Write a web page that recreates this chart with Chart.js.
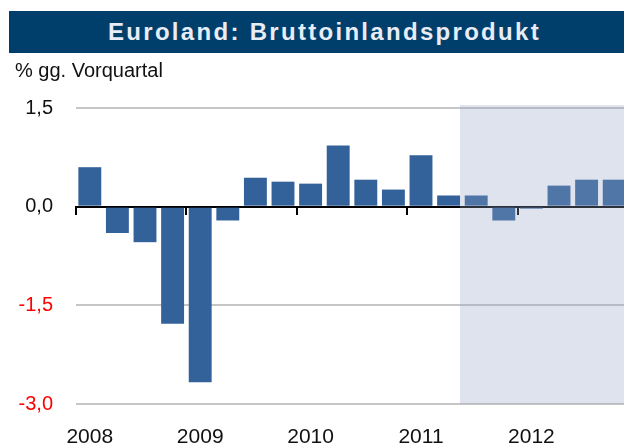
<!DOCTYPE html>
<html>
<head>
<meta charset="utf-8">
<script src="https://cdn.jsdelivr.net/npm/chart.js@4"></script>
<style>
  body { margin: 0; background: #fff; overflow: hidden; font-family: "Liberation Sans", Arial, sans-serif; }
  #wrap { position: relative; width: 624px; height: 445px; overflow: hidden; }
  #titel {
    position: absolute; left: 9px; top: 11px; width: 631px; height: 42px;
    background: #003e6b; color: #e8ecf5; font-weight: bold; font-size: 24px;
    letter-spacing: 2.3px; line-height: 42px; text-align: center; z-index: 2;
  }
  #einheit { position: absolute; left: 15px; top: 60px; font-size: 20px; line-height: 20px; color: #111; z-index: 2; }
  #box { position: absolute; left: 0; top: 0; width: 628px; height: 445px; }
</style>
</head>
<body>
<div id="wrap">
  <div id="titel">Euroland: Bruttoinlandsprodukt</div>
  <div id="einheit">% gg. Vorquartal</div>
  <div id="box"><canvas id="chart"></canvas></div>
</div>
<script>
const quartale = [
  "Q1 2008", "Q2 2008", "Q3 2008", "Q4 2008",
  "Q1 2009", "Q2 2009", "Q3 2009", "Q4 2009",
  "Q1 2010", "Q2 2010", "Q3 2010", "Q4 2010",
  "Q1 2011", "Q2 2011", "Q3 2011", "Q4 2011",
  "Q1 2012", "Q2 2012", "Q3 2012", "Q4 2012"
];
const bip = [
  0.6, -0.4, -0.54, -1.78,
  -2.67, -0.21, 0.44, 0.38,
  0.35, 0.93, 0.41, 0.26,
  0.78, 0.17, 0.17, -0.21,
  -0.03, 0.32, 0.41, 0.41
];
const yTicks = [1.5, 0, -1.5, -3.0];
const prognoseAb = "Q3 2011"; // ab hier Prognose (schattiert)

const prognoseFlaeche = {
  id: "prognoseFlaeche",
  afterDraw(chart) {
    const ctx = chart.ctx;
    const meta = chart.getDatasetMeta(0);
    const vorher = meta.data[quartale.indexOf(prognoseAb) - 1];
    const x0 = vorher.x + vorher.width / 2;
    const { top, bottom, right } = chart.chartArea;
    ctx.save();
    ctx.fillStyle = "rgba(148, 162, 198, 0.3)";
    ctx.fillRect(x0, top - 3, right - x0, bottom - top + 3);
    ctx.restore();
  },
};

new Chart(document.getElementById("chart"), {
  type: "bar",
  data: {
    labels: quartale,
    datasets: [
      {
        data: bip,
        backgroundColor: "#33629a",
        borderWidth: 0,
        barPercentage: 0.83,
        categoryPercentage: 1,
      },
    ],
  },
  options: {
    responsive: true,
    maintainAspectRatio: false,
    animation: false,
    layout: { padding: { top: 108, left: 0, right: 0, bottom: 0 } },
    plugins: { legend: { display: false }, tooltip: { enabled: false } },
    scales: {
      x: {
        offset: true,
        grid: { display: false },
        border: { display: false },
        ticks: {
          autoSkip: false,
          maxRotation: 0,
          padding: 13,
          color: "#111",
          font: { family: "Liberation Sans", size: 21 },
          callback: (v, i) => (quartale[i].startsWith("Q1") ? quartale[i].slice(3) : ""),
        },
        afterFit: (s) => { s.height = 41; },
      },
      x2: {
        type: "category",
        position: { y: 0 },
        offset: true,
        z: 1,
        grid: {
          offset: true,
          drawOnChartArea: false,
          drawTicks: true,
          tickLength: 7,
          lineWidth: 2,
          color: (c) => (c.index % 4 === 0 ? "#000" : "rgba(0,0,0,0)"),
        },
        border: { display: true, color: "#000", width: 2 },
        ticks: { display: false },
      },
      y: {
        min: yTicks[yTicks.length - 1],
        max: yTicks[0],
        afterBuildTicks: (s) => { s.ticks = yTicks.map((v) => ({ value: v })); },
        grid: {
          drawTicks: false,
          lineWidth: 2,
          color: (c) => (c.tick.value === 0 ? "rgba(0,0,0,0)" : "#c6c6c6"),
        },
        border: { display: false },
        ticks: {
          padding: 23,
          font: { family: "Liberation Sans", size: 20 },
          color: (c) => (c.tick.value < 0 ? "#ff0000" : "#111"),
          callback: (v) => v.toFixed(1).replace(".", ","),
        },
        afterFit: (s) => { s.width = 76; },
      },
    },
  },
  plugins: [prognoseFlaeche],
});
</script>
</body>
</html>
